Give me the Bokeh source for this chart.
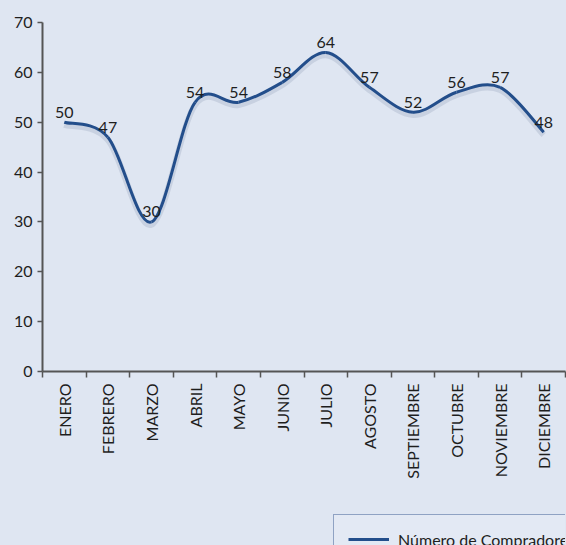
import numpy as np
from bokeh.plotting import figure
from bokeh.layouts import column
from bokeh.models import ColumnDataSource, FixedTicker, Legend, LegendItem, Range1d
from bokeh.transform import dodge
from bokeh.core.properties import value
from bokeh.embed import file_html
from bokeh.resources import INLINE

# ---- data ----
months = ["ENERO", "FEBRERO", "MARZO", "ABRIL", "MAYO", "JUNIO", "JULIO",
          "AGOSTO", "SEPTIEMBRE", "OCTUBRE", "NOVIEMBRE", "DICIEMBRE"]
compradores = [50, 47, 30, 54, 54, 58, 64, 57, 52, 56, 57, 48]
y_ticks = [0, 10, 20, 30, 40, 50, 60, 70]
series_name = "Número de Compradores"

FONT = "Lato"
BG = "#dfe6f2"
LINE = "#234e8b"
TXT = "#1e1e1e"
AX = "#555555"

n = len(months)
xs = np.arange(n) + 0.5
ys = np.array(compradores, dtype=float)

# smoothed (Catmull-Rom style) bezier segments built from the data points
xp = np.concatenate([[xs[0]], xs, [xs[-1]]])
yp = np.concatenate([[ys[0]], ys, [ys[-1]]])
seg = dict(x0=[], y0=[], x1=[], y1=[], cx0=[], cy0=[], cx1=[], cy1=[])
for i in range(n - 1):
    pm, p0, p1, p2 = i, i + 1, i + 2, i + 3
    seg["x0"].append(xp[p0]); seg["y0"].append(yp[p0])
    seg["x1"].append(xp[p1]); seg["y1"].append(yp[p1])
    seg["cx0"].append(xp[p0] + (xp[p1] - xp[pm]) / 6)
    seg["cy0"].append(yp[p0] + (yp[p1] - yp[pm]) / 6)
    seg["cx1"].append(xp[p1] - (xp[p2] - xp[p0]) / 6)
    seg["cy1"].append(yp[p1] - (yp[p2] - yp[p0]) / 6)
seg_src = ColumnDataSource(seg)
pts = ColumnDataSource(dict(x=xs, y=ys, lab=[str(v) for v in compradores]))

p = figure(width=566, height=514, output_backend="svg", toolbar_location=None,
           x_range=Range1d(0, n), y_range=Range1d(y_ticks[0], y_ticks[-1]),
           styles={"background-color": BG})
p.min_border_left = 42
p.min_border_right = 1
p.min_border_top = 22
p.min_border_bottom = 143
p.background_fill_color = BG
p.border_fill_color = BG
p.outline_line_color = None
p.xgrid.grid_line_color = None
p.ygrid.grid_line_color = None

# shadow
p.bezier(x0="x0", y0=dodge("y0", -0.55), x1="x1", y1=dodge("y1", -0.55),
         cx0="cx0", cy0=dodge("cy0", -0.55), cx1="cx1", cy1=dodge("cy1", -0.55),
         source=seg_src, line_color="#aeb8cc", line_alpha=0.45, line_width=6)
r = p.bezier(x0="x0", y0="y0", x1="x1", y1="y1", cx0="cx0", cy0="cy0",
             cx1="cx1", cy1="cy1", source=seg_src, line_color=LINE, line_width=3)

p.text(x="x", y="y", text="lab", source=pts, text_align="center",
       text_baseline="alphabetic", y_offset=-10, text_font=value(FONT),
       text_font_size="16px", text_color=TXT)

# axes
xa = p.xaxis[0]
xa.ticker = FixedTicker(ticks=list(xs), minor_ticks=list(range(n + 1)))
xa.major_label_overrides = {float(x): m for x, m in zip(xs, months)}
xa.major_label_orientation = np.pi / 2
xa.major_tick_line_color = None
xa.major_tick_out = 6
xa.major_tick_in = 0
xa.minor_tick_out = 6
xa.minor_tick_in = 0
xa.minor_tick_line_color = AX
xa.minor_tick_line_width = 1.5
xa.axis_line_color = AX
xa.axis_line_width = 2
xa.major_label_standoff = 6
xa.major_label_text_font = FONT
xa.major_label_text_font_size = "16px"
xa.major_label_text_color = TXT

ya = p.yaxis[0]
ya.ticker = FixedTicker(ticks=y_ticks, minor_ticks=[])
ya.major_tick_out = 5
ya.major_tick_in = 0
ya.major_tick_line_color = AX
ya.major_tick_line_width = 1.5
ya.axis_line_color = AX
ya.axis_line_width = 2
ya.major_label_standoff = 5
ya.major_label_text_font = FONT
ya.major_label_text_font_size = "16px"
ya.major_label_text_color = TXT

# ---- legend strip (legend box runs past the window edge as in the reference) ----
pl = figure(width=566, height=31, output_backend="svg", toolbar_location=None,
            x_range=Range1d(0, 1), y_range=Range1d(0, 1),
            x_axis_type=None, y_axis_type=None,
            styles={"background-color": BG})
pl.min_border = 0
pl.background_fill_color = BG
pl.border_fill_color = BG
pl.outline_line_color = None
pl.xgrid.grid_line_color = None
pl.ygrid.grid_line_color = None
# the series itself, out of this strip's view: only its legend sample shows
rl = pl.line(x=xs, y=ys, line_color=LINE, line_width=3)

legend = Legend(items=[LegendItem(label=series_name, renderers=[rl])],
                location=(291, -19))
legend.padding = 14
legend.margin = 0
legend.glyph_width = 41
legend.glyph_height = 20
legend.label_height = 20
legend.label_standoff = 9
legend.label_text_font = FONT
legend.label_text_font_size = "16px"
legend.label_text_color = TXT
legend.background_fill_color = "#e3e9f4"
legend.background_fill_alpha = 1
legend.border_line_color = "#3b5b91"
legend.border_line_width = 1.5
pl.add_layout(legend)

layout = column(p, pl, spacing=0, styles={"background-color": BG})
open("out.html", "w").write(file_html(layout, INLINE))
